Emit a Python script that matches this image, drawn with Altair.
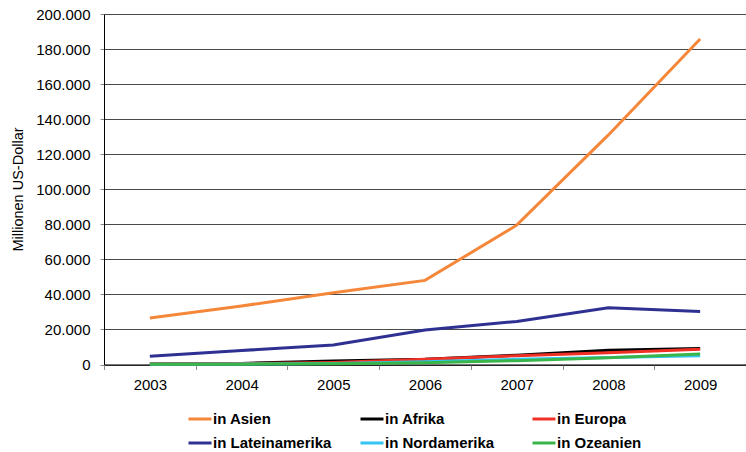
import altair as alt
import pandas as pd

years = ["2003", "2004", "2005", "2006", "2007", "2008", "2009"]
series = ["in Asien", "in Afrika", "in Europa", "in Lateinamerika", "in Nordamerika", "in Ozeanien"]
colors = ["#F5873A", "#000000", "#EE3124", "#2E3192", "#33C6F4", "#3AB54A"]

asien = [26500, 33400, 41000, 48000, 79500, 131000, 185700]
afrika = [300, 600, 2000, 3000, 5300, 8200, 9200]
europa = [300, 500, 1200, 3000, 5000, 6700, 8700]
lateinamerika = [4700, 8000, 11100, 19700, 24600, 32400, 30300]
nordamerika = [200, 300, 600, 1500, 3000, 4000, 5000]
ozeanien = [100, 200, 400, 1000, 2200, 3900, 6000]

values = [asien, afrika, europa, lateinamerika, nordamerika, ozeanien]
rows = []
for name, vals in zip(series, values):
    for y, v in zip(years, vals):
        rows.append({"Jahr": y, "Region": name, "Wert": v})
df = pd.DataFrame(rows)

# the legend grid fills column by column: reorder so it reads row by row
legend_order = [series[i] for i in (0, 3, 1, 4, 2, 5)]
legend_colors = [colors[i] for i in (0, 3, 1, 4, 2, 5)]

font = "Liberation Sans"

chart = (
    alt.Chart(df)
    .mark_line(strokeWidth=3)
    .encode(
        x=alt.X(
            "Jahr:O",
            scale=alt.Scale(type="band", paddingInner=0, paddingOuter=0),
            bandPosition=0.5,
            axis=alt.Axis(
                title=None,
                labelAngle=0,
                tickBand="extent",
                tickSize=5,
                tickColor="#888888",
                domainColor="#000000",
                labelFont=font,
                labelFontSize=15,
                labelColor="#000000",
                labelPadding=8,
                grid=False,
            ),
        ),
        y=alt.Y(
            "Wert:Q",
            scale=alt.Scale(domain=[0, 200000], nice=False),
            axis=alt.Axis(
                title="Millionen US-Dollar",
                values=list(range(0, 200001, 20000)),
                labelExpr="replace(format(datum.value, ','), ',', '.')",
                tickSize=4,
                tickColor="#888888",
                domainColor="#000000",
                labelFont=font,
                labelFontSize=15,
                labelColor="#000000",
                labelPadding=10,
                grid=True,
                gridColor="#4a4a4a",
                gridWidth=1,
                titleFont=font,
                titleFontSize=14.5,
                titleFontWeight="normal",
                titleColor="#000000",
                titleAngle=-90,
                titleAlign="center",
                titleBaseline="middle",
                titleX=-86,
                titleY=175,
            ),
        ),
        color=alt.Color(
            "Region:N",
            scale=alt.Scale(domain=legend_order, range=legend_colors),
            sort=legend_order,
            legend=alt.Legend(
                title=None,
                orient="none",
                legendX=83,
                legendY=392,
                columns=3,
                gridAlign="all",
                columnPadding=22,
                rowPadding=3,
                padding=0,
                symbolType="stroke",
                symbolSize=529,
                symbolStrokeWidth=3,
                labelFont=font,
                labelFontSize=15,
                labelFontWeight="bold",
                labelColor="#000000",
                labelOffset=0,
            ),
        ),
        order=alt.Order("layer:Q"),
    )
    .transform_calculate(layer=f"indexof({series}, datum.Region)")
    .properties(
        width=642,
        height=350.5,
        autosize=alt.AutoSizeParams(type="none"),
        padding={"left": 104, "top": 14, "right": 0, "bottom": 87.5},
    )
    .configure_view(stroke=None)
    .configure(background="white")
)

chart.save("out.html", embed_options={"renderer": "svg", "actions": False})
